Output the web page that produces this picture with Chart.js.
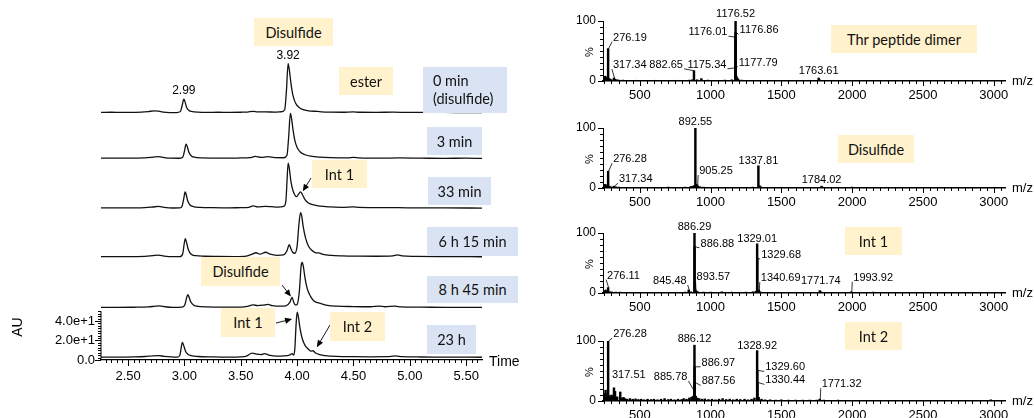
<!DOCTYPE html>
<html>
<head>
<meta charset="utf-8">
<script src="https://cdn.jsdelivr.net/npm/chart.js@4.4.1/dist/chart.umd.min.js"></script>
<style>
  body { margin: 0; width: 1034px; height: 418px; overflow: hidden; background: #fff; position: relative; }
  canvas { position: absolute; }
  .box { position: absolute; display: flex; align-items: center; justify-content: center;
         font: 14.5px Lato, sans-serif; color: #111; white-space: nowrap; }
  .tan { background: #fff2cc; }
  .blue { background: #dae3f3; }
</style>
</head>
<body>
<canvas id="lc" width="545" height="418" style="left:0;top:0"></canvas>
<canvas id="s1" width="489" height="100" style="left:545px;top:0"></canvas>
<canvas id="s2" width="489" height="100" style="left:545px;top:107px"></canvas>
<canvas id="s3" width="489" height="100" style="left:545px;top:212px"></canvas>
<canvas id="s4" width="489" height="100" style="left:545px;top:320px"></canvas>

<div class="box tan" style="left:254px;top:18px;width:79px;height:28px">Disulfide</div>
<div class="box tan" style="left:339px;top:67px;width:54px;height:28px">ester</div>
<div class="box blue" style="left:423px;top:67px;width:84px;height:46px;justify-content:flex-start;padding-left:10px;box-sizing:border-box;line-height:18px">0 min<br>(disulfide)</div>
<div class="box blue" style="left:427px;top:127px;width:55px;height:28px">3 min</div>
<div class="box tan" style="left:312px;top:160px;width:55px;height:28px">Int 1</div>
<div class="box blue" style="left:428px;top:177px;width:63px;height:28px">33 min</div>
<div class="box blue" style="left:427px;top:227px;width:91px;height:29px">6 h 15 min</div>
<div class="box tan" style="left:201px;top:257px;width:79px;height:29px">Disulfide</div>
<div class="box blue" style="left:427px;top:276px;width:91px;height:27px">8 h 45 min</div>
<div class="box tan" style="left:221px;top:308px;width:54px;height:29px">Int 1</div>
<div class="box tan" style="left:330px;top:312px;width:55px;height:29px">Int 2</div>
<div class="box blue" style="left:427px;top:325px;width:49px;height:29px">23 h</div>

<div class="box tan" style="left:831px;top:25px;width:146px;height:28px">Thr peptide dimer</div>
<div class="box tan" style="left:838px;top:135px;width:76px;height:28px">Disulfide</div>
<div class="box tan" style="left:845px;top:227px;width:57px;height:28px">Int 1</div>
<div class="box tan" style="left:845px;top:322px;width:57px;height:28px">Int 2</div>

<script>
// ---- chromatograms: [time (min), AU] ----
const trace0min = [[2.26,3],[2.35,3.1],[2.45,2.9],[2.55,3],[2.62,3.2],[2.68,3.8],[2.73,4.5],[2.77,4.2],[2.81,3.3],[2.87,2.8],[2.93,2.8],[2.965,4],[2.98,10],[2.995,16.5],[3.005,14],[3.02,8],[3.04,5],[3.07,3.8],[3.12,3.2],[3.2,3],[3.3,3.1],[3.4,3],[3.5,3.1],[3.56,3.3],[3.61,4],[3.65,3.4],[3.72,3.4],[3.8,3.3],[3.86,3.6],[3.89,6],[3.905,25],[3.92,53],[3.93,47],[3.945,33],[3.96,22],[3.98,14],[4.0,10],[4.03,7],[4.07,5.2],[4.12,4.3],[4.18,4],[4.22,3.5],[4.3,3.2],[4.4,3.1],[4.5,3.5],[4.55,3.1],[4.7,3],[4.85,3.2],[5.0,2.9],[5.2,3],[5.4,2.8],[5.64,2.8]];
const trace3min = [[2.26,3],[2.4,3],[2.55,3.1],[2.65,3.3],[2.72,4],[2.77,4.6],[2.82,3.6],[2.88,3],[2.95,2.9],[2.985,4],[3.0,10],[3.015,17.4],[3.025,15],[3.04,9],[3.06,5.5],[3.09,4],[3.15,3.3],[3.25,3.1],[3.4,3],[3.5,3.2],[3.58,3.5],[3.63,4.8],[3.68,3.8],[3.74,4.5],[3.8,3.5],[3.88,3.4],[3.91,6],[3.925,25],[3.94,49],[3.95,44],[3.965,31],[3.98,21],[4.0,14],[4.03,9],[4.07,6.5],[4.12,5],[4.2,4],[4.3,3.5],[4.45,3.3],[4.5,3.8],[4.55,3.3],[4.75,3],[4.9,3.2],[5.1,3],[5.3,2.8],[5.5,3],[5.64,2.8]];
const trace33min = [[2.26,3],[2.4,3.1],[2.55,3],[2.65,3.2],[2.72,3.9],[2.77,4.5],[2.82,3.5],[2.9,2.9],[2.96,3],[2.98,5],[2.995,13],[3.006,19.4],[3.015,17],[3.03,10],[3.05,6],[3.08,4.3],[3.14,3.5],[3.25,3.2],[3.4,3],[3.5,3.3],[3.57,3.6],[3.61,5],[3.65,4],[3.72,4.5],[3.77,4.2],[3.83,3.8],[3.88,4.5],[3.9,10],[3.91,30],[3.92,49],[3.93,44],[3.945,30],[3.965,20],[3.995,14.5],[4.015,17.5],[4.03,19.5],[4.045,17],[4.07,11.5],[4.1,8],[4.15,6],[4.2,4.8],[4.3,4],[4.4,3.6],[4.5,4],[4.55,3.5],[4.7,3.3],[4.9,3.2],[5.1,3],[5.3,3],[5.64,2.8]];
const trace6h15 = [[2.26,3],[2.4,3],[2.55,3.1],[2.65,3.3],[2.72,4],[2.77,4.5],[2.82,3.6],[2.9,3],[2.96,3],[2.985,6],[2.998,16],[3.008,21.5],[3.018,18],[3.035,10],[3.06,5.5],[3.1,4],[3.18,3.4],[3.3,3.2],[3.45,3.1],[3.55,3.6],[3.6,5.5],[3.635,7],[3.67,5.5],[3.72,7.5],[3.76,5.5],[3.82,4.4],[3.88,4.8],[3.91,9],[3.93,15.3],[3.945,11],[3.96,7.5],[3.98,6.5],[4.0,14],[4.015,35],[4.03,48],[4.04,45],[4.055,33],[4.075,22],[4.1,14],[4.13,9.5],[4.16,7.2],[4.19,6.8],[4.23,5.3],[4.3,4.3],[4.4,3.8],[4.55,3.5],[4.7,3.4],[4.85,3.8],[4.89,4.8],[4.93,3.8],[5.05,3.3],[5.3,3],[5.64,2.9]];
const trace8h45 = [[2.26,3],[2.4,3],[2.55,3.1],[2.68,3.4],[2.74,4.2],[2.78,4.6],[2.83,3.6],[2.9,3],[2.98,3.2],[3.005,6],[3.02,13],[3.03,16],[3.04,14],[3.055,9],[3.08,5.5],[3.12,4],[3.2,3.4],[3.35,3.2],[3.5,3.3],[3.56,4],[3.61,5.5],[3.65,4.8],[3.7,5.3],[3.74,6],[3.78,4.8],[3.85,4.2],[3.9,4.5],[3.935,8],[3.955,13.3],[3.97,8],[3.985,5.5],[4.0,6],[4.02,20],[4.035,45],[4.045,49],[4.055,45],[4.07,33],[4.09,22],[4.12,14],[4.15,9.5],[4.19,7.5],[4.22,6.5],[4.27,5],[4.35,4.2],[4.5,3.8],[4.65,3.6],[4.73,4.2],[4.78,3.6],[4.87,4.2],[4.92,3.5],[5.1,3.2],[5.3,3],[5.64,2.9]];
const trace23h = [[2.26,3],[2.4,3],[2.55,3.2],[2.65,3.6],[2.72,4.3],[2.77,4.5],[2.82,3.8],[2.88,3.2],[2.94,3],[2.96,5],[2.972,13],[2.982,18],[2.992,15.5],[3.01,9],[3.03,6],[3.06,4.5],[3.12,3.6],[3.25,3.2],[3.4,3],[3.5,3.2],[3.55,4],[3.6,7],[3.64,6],[3.68,5.5],[3.71,6.5],[3.75,5],[3.82,4],[3.88,4.2],[3.93,5],[3.955,6.5],[3.97,5],[3.98,12],[3.99,35],[4.0,49],[4.01,45],[4.025,33],[4.045,22],[4.07,15],[4.1,11],[4.125,9],[4.14,9.5],[4.16,7.5],[4.2,5.5],[4.25,4.5],[4.35,3.7],[4.5,3.4],[4.65,3.3],[4.8,3.4],[4.87,4.2],[4.93,3.4],[5.1,3.1],[5.3,3],[5.64,2.8]];
const traces = [trace0min, trace3min, trace33min, trace6h15, trace8h45, trace23h];
const timeTicks = [2.5, 3.0, 3.5, 4.0, 4.5, 5.0, 5.5];
const auTicks = [0, 20, 40];

// ---- mass spectra: m/z, relative intensity (%) ----
const thrMz  = [276.19, 317.34, 882.65, 1175.34, 1176.01, 1176.52, 1176.86, 1177.79, 1763.61];
const thrInt = [54, 5, 17, 22, 73, 100, 81, 24, 5];
const thrNoise = [[250,5],[256,8],[262,4],[270,6],[283,4],[292,3],[300,2],[325,3],[340,2],[352,1.5],[380,1.5],[420,1],[470,1.2],[540,1],[610,1.2],[680,1],[750,1.2],[800,1],[850,1.5],[870,2],[905,2],[935,4],[980,1.5],[1040,1],[1100,1.5],[1150,2],[1182,8],[1188,5],[1195,3],[1220,1.5],[1260,1],[1340,1],[1420,1],[1520,1],[1620,1],[1700,1.2],[1770,2],[1850,1],[1950,1],[2050,1],[2200,1],[2350,1],[2500,1],[2650,1],[2800,1],[2950,1]];

const disMz  = [276.28, 317.34, 892.55, 905.25, 1337.81, 1784.02];
const disInt = [28, 3, 100, 5, 37, 3];
const disNoise = [[248,4],[255,6],[262,3],[270,5],[285,3],[300,2],[330,2],[350,1.5],[400,1],[480,1],[560,1],[640,1],[700,1.5],[760,1],[820,1.5],[860,2.5],[875,3],[885,4],[898,6],[912,3],[925,2],[950,1.5],[1000,1],[1100,1],[1200,1],[1300,1.5],[1345,4],[1355,2],[1400,1],[1500,1],[1600,1],[1700,1],[1790,1.5],[1900,1],[2000,1.5],[2100,1],[2300,1],[2500,1],[2700,1],[2900,1]];

const int1Mz  = [276.11, 845.48, 886.29, 886.88, 893.57, 1329.01, 1329.68, 1340.69, 1771.74, 1993.92];
const int1Int = [9, 5, 100, 77, 5, 82, 58, 5, 4, 2];
const int1Noise = [[250,3],[258,5],[266,3],[285,2],[300,2],[330,1.5],[360,1.5],[400,1],[460,1],[530,1],[600,1],[680,1],[760,1],[820,1.5],[860,2],[900,3],[910,2],[950,1.5],[1000,1.5],[1080,2],[1150,1.5],[1250,1.5],[1300,2],[1320,3],[1335,4],[1350,2],[1400,1],[1500,1],[1600,1],[1700,1],[1780,2],[1850,1],[1950,1],[2050,1],[2150,1.5],[2300,1],[2450,1],[2600,1],[2800,1],[2950,1]];

const int2Mz  = [276.28, 317.51, 885.78, 886.12, 886.97, 887.56, 1328.92, 1329.60, 1330.44, 1771.32];
const int2Int = [100, 22, 15, 93, 57, 31, 84, 51, 31, 3];
const int2Noise = [[248,10],[252,12],[258,18],[264,8],[270,12],[285,9],[292,6],[300,10],[308,8],[325,16],[340,7],[362,15],[372,5],[385,6],[395,4],[410,3],[430,4],[450,3],[470,3.5],[490,2.5],[510,3],[530,2],[555,3],[580,2.5],[600,3],[625,2],[650,3],[675,4],[700,2.5],[720,3],[745,2],[770,3],[795,2.5],[810,4],[830,3],[850,5],[865,6],[875,8],[895,8],[905,5],[920,4],[940,3],[960,3.5],[985,2.5],[1010,3],[1035,2],[1060,3],[1085,4],[1110,2.5],[1135,3],[1160,2],[1185,3],[1210,2.5],[1240,3],[1265,2],[1290,3],[1310,5],[1340,6],[1360,3],[1385,2],[1420,2],[1460,1.5],[1500,2],[1550,1.5],[1600,1.5],[1650,1.5],[1700,1.5],[1750,1.5],[1800,1.5],[1850,1],[1900,1.5],[1950,1],[2000,1],[2100,1],[2200,1],[2300,1],[2400,1],[2500,1],[2600,1],[2700,1],[2800,1],[2900,1],[2980,2]];

const mzTicks = [500, 1000, 1500, 2000, 2500, 3000];
const pctTicks = [0, 100];

// ---- layout (not data) ----
const traceOffsets = [251, 204, 153, 103, 51, 0];
// label placement relative to the peak top: dx, dy, align, leader line
const thrPos  = [[5,-11,'left',1],[-1,-13,'left',1],[-11,-6,'right',1],[-9,-3,'right',1],[-8,-5,'right',1],[0,-7,'center',0],[4,-2,'left',1],[3,-4,'left',1],[0,-7,'center',0]];
const disPos  = [[5,-12,'left',1],[5,-7,'left',1],[0,-6,'center',0],[2,-14,'left',1],[0,-5,'center',0],[0,-6,'center',0]];
const int1Pos = [[-1,-12,'left',1],[-2,-9,'right',1],[0,-6,'center',0],[6,-3,'left',1],[1,-13,'left',1],[0,-5,'center',0],[4,-3,'left',1],[2,-12,'left',1],[1,-10,'center',0],[2,-14,'left',1]];
const int2Pos = [[5,-7,'left',1],[-2,-13,'left',0],[-7,-15,'right',1],[0,-6,'center',0],[7,-4,'left',1],[7,-1,'left',1],[0,-5,'center',0],[8,-3,'left',1],[8,-2,'left',1],[2,-15,'left',1]];

const FONT = "'Liberation Sans', Arial, sans-serif";
Chart.defaults.font.family = FONT;
Chart.defaults.color = '#000';

function arrow(ctx, x1, y1, x2, y2) {
  const a = Math.atan2(y2 - y1, x2 - x1);
  ctx.beginPath(); ctx.moveTo(x1, y1); ctx.lineTo(x2 - 5 * Math.cos(a), y2 - 5 * Math.sin(a)); ctx.stroke();
  ctx.beginPath();
  ctx.moveTo(x2, y2);
  ctx.lineTo(x2 - 7 * Math.cos(a) + 3 * Math.sin(a), y2 - 7 * Math.sin(a) - 3 * Math.cos(a));
  ctx.lineTo(x2 - 7 * Math.cos(a) - 3 * Math.sin(a), y2 - 7 * Math.sin(a) + 3 * Math.cos(a));
  ctx.closePath(); ctx.fill();
}

// tick marks along the axes (minor + major), drawn from the scales
const tickMarks = {
  id: 'tickMarks',
  afterDraw(chart, args, opts) {
    const ctx = chart.ctx, area = chart.chartArea;
    ctx.save();
    ctx.strokeStyle = '#000'; ctx.lineWidth = 1;
    (opts.axes || []).forEach(a => {
      const sc = chart.scales[a.id];
      const n = Math.round((a.to - a.from) / a.step);
      for (let i = 0; i <= n; i++) {
        const v = +(a.from + i * a.step).toFixed(4);
        const r = v / a.major;
        const len = Math.abs(r - Math.round(r)) < 1e-6 ? a.majorLen : a.minorLen;
        const p = Math.round(sc.getPixelForValue(v)) + 0.5;
        ctx.beginPath();
        if (a.id === 'x') { ctx.moveTo(p, area.bottom); ctx.lineTo(p, area.bottom + len); }
        else { ctx.moveTo(area.left, p); ctx.lineTo(area.left - len, p); }
        ctx.stroke();
      }
      if (a.line) {
        ctx.beginPath();
        ctx.moveTo(area.left, sc.getPixelForValue(a.from));
        ctx.lineTo(area.left, sc.getPixelForValue(a.to));
        ctx.stroke();
      }
    });
    ctx.restore();
  }
};

// left chart: peak labels, arrows, axis titles
const chromAnno = {
  id: 'chromAnno',
  afterDatasetsDraw(chart) {
    const ctx = chart.ctx, x = chart.scales.x, y = chart.scales.y;
    ctx.save();
    ctx.fillStyle = '#000'; ctx.strokeStyle = '#000';
    ctx.font = '12px ' + FONT; ctx.textAlign = 'center'; ctx.textBaseline = 'middle';
    [[0, 2.99], [0, 3.92]].forEach(([ti, t]) => {
      const pk = traces[ti].filter(p => Math.abs(p[0] - t) < 0.03).reduce((m, p) => p[1] > m[1] ? p : m);
      ctx.fillText(t.toFixed(2), x.getPixelForValue(pk[0]), y.getPixelForValue(pk[1] + traceOffsets[ti]) - 8);
    });
    ctx.lineWidth = 0.9;
    [[2, 4.05, 20, 311, 178], [4, 3.945, 14, 282, 285], [5, 3.955, 42, 276, 323], [5, 4.175, 13, 330, 325]]
      .forEach(([ti, t, v, fx, fy]) => arrow(ctx, fx, fy, x.getPixelForValue(t), y.getPixelForValue(v + traceOffsets[ti])));
    ctx.font = '14px ' + FONT; ctx.textAlign = 'left';
    ctx.fillText('Time', 489, chart.chartArea.bottom + 2);
    ctx.translate(18, 327); ctx.rotate(-Math.PI / 2); ctx.textAlign = 'center';
    ctx.fillText('AU', 0, 0);
    ctx.restore();
  }
};

new Chart(document.getElementById('lc'), {
  type: 'line',
  data: {
    datasets: traces.map((tr, i) => ({
      data: tr.map(p => ({ x: p[0], y: p[1] + traceOffsets[i] })),
      borderColor: '#111', borderWidth: 1.3, pointRadius: 0, fill: false,
      cubicInterpolationMode: 'monotone'
    }))
  },
  options: {
    responsive: false, animation: false,
    layout: { padding: { top: 20, right: 63, left: 0, bottom: 0 } },
    plugins: {
      legend: { display: false }, tooltip: { enabled: false },
      tickMarks: { axes: [
        { id: 'x', from: 2.30, to: 5.60, step: 0.05, major: 0.5, majorLen: 6, minorLen: 3 },
        { id: 'y', from: 0, to: 50, step: 2.5, major: 20, majorLen: 6, minorLen: 3, line: true }
      ] }
    },
    scales: {
      x: {
        type: 'linear', min: 2.26, max: 5.64,
        grid: { display: false, drawTicks: false }, border: { color: '#000', width: 1.2 },
        ticks: { padding: 9, font: { size: 13 }, maxRotation: 0, autoSkip: false, callback: v => v.toFixed(2) },
        afterBuildTicks: s => { s.ticks = timeTicks.map(v => ({ value: v })); },
        afterFit: s => { s.height = 58; }
      },
      y: {
        min: 0, max: 348.7,
        grid: { display: false, drawTicks: false }, border: { display: false },
        ticks: { padding: 6, font: { size: 13 }, autoSkip: false,
                 callback: v => v === 0 ? '0.0' : (v / 10).toFixed(1) + 'e+1' },
        afterBuildTicks: s => { s.ticks = auTicks.map(v => ({ value: v })); },
        afterFit: s => { s.width = 101; }
      }
    }
  },
  plugins: [tickMarks, chromAnno]
});

// spectra
const peakLabels = {
  id: 'peakLabels',
  afterDatasetsDraw(chart, args, o) {
    const ctx = chart.ctx, x = chart.scales.x, y = chart.scales.y, area = chart.chartArea;
    ctx.save();
    ctx.fillStyle = '#000'; ctx.strokeStyle = '#000'; ctx.lineWidth = 0.8;
    ctx.font = '11px ' + FONT; ctx.textBaseline = 'middle';
    o.mz.forEach((mz, i) => {
      const [dx, dy, align, lead] = o.pos[i];
      const px = x.getPixelForValue(mz), py = y.getPixelForValue(o.val[i]);
      const tx = px + dx, ty = py + dy;
      ctx.textAlign = align;
      ctx.fillText(mz.toFixed(2), tx, ty);
      if (lead) {
        const ex = align === 'right' ? tx + 1 : tx - 1;
        ctx.beginPath(); ctx.moveTo(px + 0.5, py); ctx.lineTo(ex, ty + 4); ctx.stroke();
      }
    });
    ctx.font = '13px ' + FONT; ctx.textAlign = 'left';
    ctx.fillText('m/z', area.right + 7, area.bottom);
    ctx.font = '11px ' + FONT;
    ctx.translate(area.left - 13, (area.top + area.bottom) / 2 + 1); ctx.rotate(-Math.PI / 2);
    ctx.textAlign = 'center';
    ctx.fillText('%', 0, 0);
    ctx.restore();
  }
};

function makeSpectrum(id, mz, val, noise, pos) {
  const pts = mz.map((m, i) => ({ x: m, y: val[i] }))
    .concat(noise.map(p => ({ x: p[0], y: p[1] })))
    .sort((a, b) => a.x - b.x);
  new Chart(document.getElementById(id), {
    type: 'bar',
    data: { datasets: [{ data: pts, backgroundColor: '#000', borderWidth: 0, barThickness: 1.8 }] },
    options: {
      responsive: false, animation: false,
      layout: { padding: { top: 21, right: 29, left: 0, bottom: 0 } },
      plugins: {
        legend: { display: false }, tooltip: { enabled: false },
        peakLabels: { mz: mz, val: val, pos: pos },
        tickMarks: { axes: [
          { id: 'x', from: 250, to: 3050, step: 50, major: 500, majorLen: 5, minorLen: 3 },
          { id: 'y', from: 0, to: 100, step: 10, major: 100, majorLen: 5, minorLen: 3 }
        ] }
      },
      scales: {
        x: {
          type: 'linear', min: 240, max: 3080, offset: false,
          grid: { display: false, drawTicks: false }, border: { color: '#000', width: 1.6 },
          ticks: { padding: 7, font: { size: 13 }, maxRotation: 0, autoSkip: false, callback: v => String(v) },
          afterBuildTicks: s => { s.ticks = mzTicks.map(v => ({ value: v })); },
          afterFit: s => { s.height = 19; }
        },
        y: {
          min: 0, max: 100,
          grid: { display: false, drawTicks: false }, border: { color: '#000', width: 1 },
          ticks: { padding: 7, font: { size: 12 }, autoSkip: false, callback: v => String(v) },
          afterBuildTicks: s => { s.ticks = pctTicks.map(v => ({ value: v })); },
          afterFit: s => { s.width = 58; }
        }
      }
    },
    plugins: [tickMarks, peakLabels]
  });
}

makeSpectrum('s1', thrMz, thrInt, thrNoise, thrPos);
makeSpectrum('s2', disMz, disInt, disNoise, disPos);
makeSpectrum('s3', int1Mz, int1Int, int1Noise, int1Pos);
makeSpectrum('s4', int2Mz, int2Int, int2Noise, int2Pos);
</script>
</body>
</html>
